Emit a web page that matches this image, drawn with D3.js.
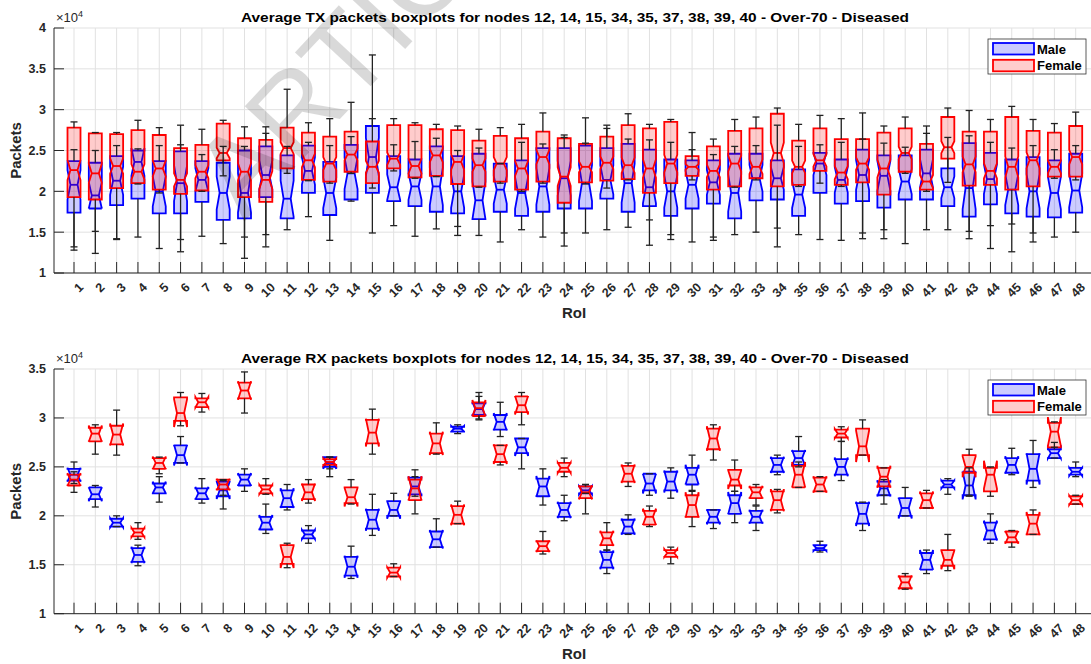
<!DOCTYPE html>
<html><head><meta charset="utf-8">
<script src="https://cdn.jsdelivr.net/npm/d3@7"></script>
<style>
body{margin:0;background:#fff}
svg{display:block}
text{font-family:"Liberation Sans",Arial,Helvetica,sans-serif}
</style>
</head><body>
<svg id="c" width="1091" height="664"></svg>
<script>
// ---------------- DATA (values in units of 10^4 packets) ----------------
const categories = [1,2,3,4,5,6,7,8,9,10,11,12,13,14,15,16,17,18,19,20,21,22,23,24,
  25,26,27,28,29,30,31,32,33,34,35,36,37,38,39,40,41,42,43,44,45,46,47,48];
const yTicksTX = [1,1.5,2,2.5,3,3.5,4];
const yTicksRX = [1,1.5,2,2.5,3,3.5];
const seriesNames = ["Male","Female"];
const titleTX = "Average TX packets boxplots for nodes 12, 14, 15, 34, 35, 37, 38, 39, 40 - Over-70 - Diseased";
const titleRX = "Average RX packets boxplots for nodes 12, 14, 15, 34, 35, 37, 38, 39, 40 - Over-70 - Diseased";
// sample counts used for notch size (1.57*IQR/sqrt(n))
const nTX = {Male: 30, Female: 120};
const nRX = {Male: 7, Female: 7};

// [lower whisker, Q1, median, Q3, upper whisker]
const txMale = [
[1.32,1.74,2.08,2.37,2.51],[1.51,1.79,1.95,2.35,2.50],[1.41,1.83,2.13,2.43,2.56],[1.44,1.91,2.36,2.50,2.52],
[1.30,1.73,2.00,2.37,2.56],[1.26,1.73,2.10,2.49,2.81],[1.45,1.87,2.14,2.37,2.45],[1.36,1.65,1.98,2.35,2.55],
[1.18,1.67,1.98,2.50,2.55],[1.47,1.93,2.20,2.55,2.71],[1.53,1.67,1.91,2.44,2.55],[1.69,1.98,2.25,2.56,2.60],
[1.40,1.71,1.98,2.36,2.56],[1.88,1.90,2.22,2.57,2.67],[1.49,1.98,2.42,2.80,3.67],[1.58,1.88,2.05,2.43,2.57],
[1.45,1.82,2.06,2.39,2.61],[1.54,1.75,2.06,2.55,2.65],[1.46,1.73,2.00,2.43,2.50],[1.46,1.66,1.89,2.46,2.53],
[1.38,1.75,2.02,2.34,2.34],[1.53,1.70,1.98,2.38,2.60],[1.44,1.75,2.06,2.53,2.58],[1.49,1.79,2.16,2.53,2.66],
[1.49,1.79,2.10,2.56,2.90],[1.53,1.91,2.14,2.53,2.81],[1.56,1.75,2.10,2.58,2.64],[1.65,1.82,2.05,2.51,2.63],
[1.41,1.70,2.00,2.39,2.60],[1.38,1.79,2.08,2.38,2.72],[1.44,1.85,2.11,2.38,2.45],[1.47,1.67,1.98,2.46,2.55],
[1.50,1.89,2.16,2.46,2.56],[1.55,1.90,2.16,2.38,2.81],[1.47,1.70,1.96,2.27,2.55],[1.41,1.98,2.34,2.47,2.57],
[1.40,1.85,2.14,2.39,2.60],[1.42,1.88,2.20,2.51,2.64],[1.42,1.80,2.19,2.44,2.59],[1.36,1.90,2.12,2.44,2.54],
[1.53,1.90,2.22,2.51,2.80],[1.53,1.82,2.05,2.28,2.66],[1.42,1.69,2.04,2.59,2.68],[1.30,1.84,2.15,2.47,2.60],
[1.26,1.73,2.02,2.39,2.53],[1.38,1.69,2.00,2.42,2.56],[1.44,1.68,1.98,2.38,2.51],[1.50,1.74,2.01,2.46,2.56]];
const txFemale = [
[1.28,1.93,2.26,2.78,2.85],[1.24,1.90,2.22,2.71,2.72],[1.42,2.04,2.31,2.70,2.72],[2.09,2.10,2.24,2.75,2.87],
[1.98,2.02,2.28,2.69,2.78],[1.41,1.97,2.14,2.53,2.57],[2.00,2.01,2.24,2.57,2.76],[2.19,2.38,2.47,2.83,2.87],
[1.44,1.93,2.24,2.65,2.79],[1.32,1.87,2.14,2.63,2.79],[2.22,2.28,2.53,2.78,3.25],[2.13,2.14,2.38,2.72,2.84],
[2.10,2.12,2.34,2.67,2.89],[2.22,2.24,2.45,2.73,3.09],[2.04,2.10,2.30,2.61,2.89],[2.25,2.28,2.40,2.81,2.89],
[2.16,2.17,2.31,2.81,2.84],[2.18,2.19,2.44,2.76,2.82],[1.57,2.09,2.36,2.75,2.80],[2.05,2.06,2.32,2.62,2.76],
[2.10,2.12,2.34,2.68,2.78],[2.00,2.02,2.28,2.65,2.82],[2.10,2.12,2.42,2.73,2.96],[1.33,1.86,2.18,2.65,2.69],
[2.09,2.11,2.30,2.58,2.59],[2.04,2.13,2.35,2.67,2.77],[2.14,2.15,2.32,2.81,2.95],[1.34,1.98,2.28,2.77,2.82],
[1.47,2.10,2.34,2.85,2.88],[2.14,2.19,2.30,2.43,2.51],[1.40,2.02,2.25,2.55,2.64],[2.05,2.06,2.34,2.74,2.88],
[2.14,2.16,2.30,2.77,2.91],[1.32,2.06,2.47,2.95,3.02],[2.06,2.08,2.30,2.62,2.82],[2.10,2.25,2.38,2.77,2.93],
[2.06,2.08,2.23,2.64,2.89],[1.49,2.11,2.34,2.64,2.96],[1.53,1.96,2.28,2.72,2.80],[2.22,2.24,2.47,2.77,2.91],
[2.00,2.02,2.12,2.58,2.71],[2.11,2.40,2.54,2.91,3.02],[1.51,2.07,2.33,2.73,2.99],[1.58,2.08,2.25,2.73,2.88],
[1.60,2.02,2.30,2.91,3.04],[1.49,2.06,2.38,2.74,2.88],[2.16,2.18,2.30,2.72,2.83],[2.14,2.18,2.42,2.80,2.97]];
const rxMale = [
[2.33,2.36,2.42,2.48,2.55],[2.09,2.17,2.22,2.29,2.31],[1.89,1.89,1.93,1.97,2.00],[1.49,1.53,1.60,1.67,1.70],
[2.14,2.23,2.29,2.33,2.40],[2.54,2.54,2.62,2.72,2.81],[2.13,2.17,2.23,2.28,2.38],[2.07,2.20,2.26,2.35,2.36],
[2.25,2.31,2.37,2.42,2.48],[1.82,1.86,1.93,1.99,2.12],[2.06,2.09,2.18,2.26,2.32],[1.72,1.77,1.81,1.85,1.90],
[2.40,2.50,2.54,2.60,2.60],[1.36,1.39,1.48,1.58,1.69],[1.80,1.87,1.96,2.06,2.22],[2.00,2.00,2.06,2.15,2.23],
[2.20,2.22,2.30,2.39,2.40],[1.68,1.68,1.76,1.84,1.97],[2.84,2.86,2.89,2.91,2.93],[2.99,3.03,3.09,3.15,3.22],
[2.81,2.88,2.96,3.03,3.16],[2.48,2.64,2.70,2.79,2.79],[2.11,2.20,2.30,2.38,2.48],[1.95,1.99,2.06,2.13,2.21],
[2.23,2.23,2.26,2.30,2.32],[1.41,1.47,1.55,1.63,1.65],[1.81,1.82,1.89,1.96,2.01],[2.21,2.26,2.33,2.43,2.43],
[2.18,2.26,2.35,2.45,2.49],[2.25,2.32,2.42,2.49,2.62],[1.87,1.93,1.99,2.06,2.06],[1.93,2.02,2.13,2.21,2.25],
[1.85,1.93,1.99,2.05,2.10],[2.42,2.45,2.52,2.59,2.62],[2.50,2.52,2.59,2.66,2.81],[1.63,1.65,1.67,1.70,1.74],
[2.36,2.42,2.50,2.58,2.76],[1.85,1.92,2.02,2.13,2.14],[2.12,2.21,2.28,2.35,2.37],[2.00,2.00,2.08,2.18,2.29],
[1.41,1.45,1.55,1.62,1.65],[2.22,2.29,2.32,2.36,2.38],[2.20,2.21,2.31,2.45,2.49],[1.72,1.76,1.85,1.93,2.02],
[2.42,2.44,2.52,2.59,2.69],[2.29,2.36,2.48,2.63,2.77],[2.59,2.59,2.64,2.68,2.75],[2.40,2.42,2.45,2.49,2.55]];
const rxFemale = [
[2.24,2.31,2.37,2.42,2.45],[2.63,2.76,2.84,2.90,2.93],[2.62,2.73,2.83,2.92,3.08],[1.76,1.79,1.83,1.87,1.93],
[2.43,2.48,2.54,2.59,2.60],[2.92,2.97,3.05,3.21,3.26],[3.06,3.11,3.16,3.20,3.25],[2.21,2.27,2.32,2.37,2.37],
[3.05,3.20,3.28,3.36,3.47],[2.22,2.23,2.27,2.31,2.38],[1.47,1.51,1.58,1.70,1.72],[2.13,2.17,2.24,2.32,2.37],
[2.48,2.52,2.55,2.58,2.60],[2.12,2.13,2.19,2.29,2.37],[2.63,2.74,2.85,2.98,3.09],[1.38,1.38,1.42,1.47,1.51],
[2.02,2.16,2.28,2.37,2.47],[2.63,2.64,2.74,2.84,2.95],[1.92,1.92,2.01,2.10,2.15],[2.98,3.02,3.10,3.16,3.26],
[2.52,2.55,2.63,2.72,2.72],[2.93,3.06,3.13,3.22,3.26],[1.61,1.64,1.69,1.74,1.84],[2.40,2.45,2.49,2.54,2.59],
[2.02,2.18,2.24,2.30,2.32],[1.65,1.70,1.77,1.83,1.93],[2.30,2.35,2.43,2.51,2.54],[1.89,1.91,1.99,2.05,2.10],
[1.51,1.58,1.62,1.65,1.68],[1.89,1.99,2.11,2.21,2.26],[2.57,2.68,2.79,2.89,2.93],[2.25,2.31,2.37,2.47,2.57],
[2.11,2.18,2.24,2.29,2.32],[2.03,2.06,2.16,2.25,2.27],[2.29,2.29,2.42,2.51,2.55],[2.25,2.25,2.32,2.39,2.40],
[2.76,2.80,2.84,2.88,2.91],[2.62,2.62,2.71,2.89,2.98],[2.21,2.30,2.40,2.49,2.49],[1.25,1.26,1.32,1.38,1.41],
[2.08,2.08,2.16,2.23,2.26],[1.44,1.49,1.55,1.65,1.81],[2.21,2.44,2.50,2.62,2.68],[2.20,2.25,2.42,2.49,2.50],
[1.68,1.73,1.78,1.84,1.85],[1.81,1.81,1.92,2.01,2.06],[2.70,2.70,2.86,2.95,2.96],[2.12,2.12,2.16,2.20,2.21]];

// ---------------- STYLE ----------------
const COLORS = {Male: "#0000ff", Female: "#ff0000"};
const FILLS = {Male: "rgba(0,0,255,0.2)", Female: "rgba(255,0,0,0.2)"};
const AX = "#262626", GRID = "#e1e1e1";

const svg = d3.select("#c");

function panel(cfg) {
  const g = svg.append("g");
  const x = d3.scaleLinear().domain([1, 48]).range([74, 1075.7]);
  const y = d3.scaleLinear().domain(cfg.ydom).range([cfg.bottom, cfg.top]);
  const left = 54, right = 1100;

  // grid
  g.selectAll(".vg").data(categories).enter().append("line")
    .attr("x1", d => x(d)).attr("x2", d => x(d))
    .attr("y1", cfg.top).attr("y2", cfg.bottom)
    .attr("stroke", GRID).attr("stroke-width", 1);
  g.selectAll(".hg").data(cfg.yticks).enter().append("line")
    .attr("x1", left).attr("x2", right)
    .attr("y1", d => y(d)).attr("y2", d => y(d))
    .attr("stroke", GRID).attr("stroke-width", 1);

  // boxes
  const hw = 6.5, nw = hw * 0.55;
  function drawSeries(data, name) {
    const n = cfg.n[name];
    const gs = g.append("g");
    data.forEach((s, i) => {
      const cx = x(categories[i]);
      const [lo, q1, med, q3, hi] = s;
      const notch = 1.57 * (q3 - q1) / Math.sqrt(n);
      const nlo = med - notch, nhi = med + notch;
      const pts = [[cx-hw,q1],[cx-hw,nlo],[cx-nw,med],[cx-hw,nhi],[cx-hw,q3],
                   [cx+hw,q3],[cx+hw,nhi],[cx+nw,med],[cx+hw,nlo],[cx+hw,q1]]
                   .map(p => [p[0], y(p[1])]);
      const path = "M" + pts.map(p => p.join(",")).join("L") + "Z";
      gs.append("path").attr("d", path).attr("fill", FILLS[name]).attr("stroke", "none");
      gs.append("path").attr("d", path).attr("fill", "none")
        .attr("stroke", COLORS[name]).attr("stroke-width", 1.8).attr("stroke-linejoin", "miter");
      gs.append("line").attr("x1", cx-nw).attr("x2", cx+nw).attr("y1", y(med)).attr("y2", y(med))
        .attr("stroke", COLORS[name]).attr("stroke-width", 1.8);
    });
  }
  drawSeries(cfg.male, "Male");
  drawSeries(cfg.female, "Female");

  // whiskers
  const gw = g.append("g").attr("stroke", "#222").attr("stroke-width", 1.3);
  [cfg.male, cfg.female].forEach(data => {
    data.forEach((s, i) => {
      const cx = x(categories[i]);
      const [lo, q1, med, q3, hi] = s;
      gw.append("line").attr("x1", cx).attr("x2", cx).attr("y1", y(q3)).attr("y2", y(hi));
      gw.append("line").attr("x1", cx).attr("x2", cx).attr("y1", y(q1)).attr("y2", y(lo));
      gw.append("line").attr("x1", cx-3.5).attr("x2", cx+3.5).attr("y1", y(hi)).attr("y2", y(hi));
      gw.append("line").attr("x1", cx-3.5).attr("x2", cx+3.5).attr("y1", y(lo)).attr("y2", y(lo));
    });
  });

  // axes
  g.append("line").attr("x1", left).attr("x2", left).attr("y1", cfg.top).attr("y2", cfg.bottom)
    .attr("stroke", AX).attr("stroke-width", 1);
  g.append("line").attr("x1", left).attr("x2", right).attr("y1", cfg.bottom).attr("y2", cfg.bottom)
    .attr("stroke", AX).attr("stroke-width", 1);
  g.selectAll(".xt").data(categories).enter().append("line")
    .attr("x1", d => x(d)).attr("x2", d => x(d)).attr("y1", cfg.bottom).attr("y2", cfg.bottom - 11)
    .attr("stroke", AX).attr("stroke-width", 1);
  g.selectAll(".yt").data(cfg.yticks).enter().append("line")
    .attr("x1", left).attr("x2", left + 10).attr("y1", d => y(d)).attr("y2", d => y(d))
    .attr("stroke", AX).attr("stroke-width", 1);

  // tick labels
  g.selectAll(".yl").data(cfg.yticks).enter().append("text")
    .attr("x", 46).attr("y", d => y(d)).attr("dy", "0.35em")
    .attr("text-anchor", "end").attr("font-size", 12.5).attr("font-weight", "bold").attr("fill", AX)
    .text(d => d);
  g.selectAll(".xl").data(categories).enter().append("text")
    .attr("transform", d => `translate(${x(d)+7},${cfg.bottom + 12}) rotate(-45)`)
    .attr("dy", "0.35em")
    .attr("text-anchor", "end").attr("font-size", 12.5).attr("font-weight", "bold").attr("fill", AX)
    .text(d => d);

  // exponent
  const ex = g.append("text").attr("x", 56).attr("y", cfg.top - 6).attr("font-size", 13).attr("fill", AX);
  ex.append("tspan").text("\u00d710");
  ex.append("tspan").attr("font-size", 9).attr("dy", -5).text("4");

  // labels
  g.append("text").attr("x", 574).attr("y", cfg.bottom + 40).attr("dy", "0.35em")
    .attr("text-anchor", "middle").attr("font-size", 15).attr("font-weight", "bold").attr("fill", AX)
    .text("RoI");
  g.append("text").attr("transform", `translate(16,${(cfg.top + cfg.bottom)/2}) rotate(-90)`)
    .attr("dy", "0.35em").attr("text-anchor", "middle").attr("font-size", 15).attr("font-weight", "bold")
    .attr("fill", AX).text("Packets");
  g.append("text").attr("x", 575).attr("y", cfg.titleY).attr("dy", "0.35em")
    .attr("text-anchor", "middle").attr("font-size", 13.5).attr("font-weight", "bold").attr("fill", "#000")
    .attr("textLength", 668).attr("lengthAdjust", "spacingAndGlyphs")
    .text(cfg.title);

  // legend
  const lg = g.append("g").attr("transform", `translate(988,${cfg.legY})`);
  lg.append("rect").attr("x", 0).attr("y", 0).attr("width", 98).attr("height", 35)
    .attr("fill", "#fff").attr("stroke", "#333").attr("stroke-width", 0.8);
  seriesNames.forEach((nm, k) => {
    lg.append("rect").attr("x", 5).attr("y", 4 + k * 16.8).attr("width", 41).attr("height", 11.5)
      .attr("fill", FILLS[nm]).attr("stroke", COLORS[nm]).attr("stroke-width", 1.8);
    lg.append("text").attr("x", 49).attr("y", 10 + k * 16.8).attr("dy", "0.35em")
      .attr("font-size", 13).attr("font-weight", "bold").attr("fill", "#000").text(nm);
  });
  return g;
}

panel({ydom: [1, 4], top: 28, bottom: 273, yticks: yTicksTX, male: txMale, female: txFemale,
       n: nTX, title: titleTX, titleY: 17.5, legY: 39});
panel({ydom: [1, 3.5], top: 369, bottom: 613.7, yticks: yTicksRX, male: rxMale, female: rxFemale,
       n: nRX, title: titleRX, titleY: 358.5, legY: 380});

// watermark
svg.append("text")
  .attr("transform", "translate(244,222) rotate(-47)")
  .attr("font-size", 114).attr("fill", "#000").attr("fill-opacity", 0.15)
  .text("ARTICLE");
</script>
</body></html>
